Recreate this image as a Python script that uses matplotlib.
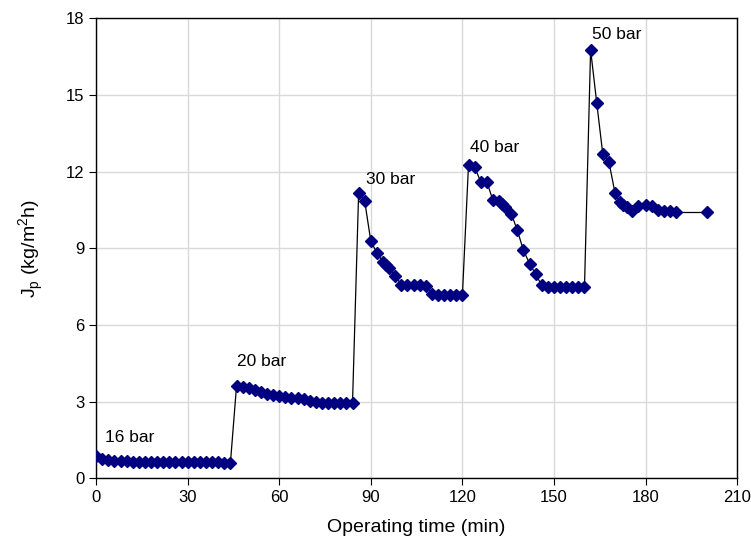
import matplotlib
matplotlib.use("Agg")
import matplotlib.pyplot as plt

plt.rcParams['font.family'] = ['Liberation Sans', 'DejaVu Sans']
plt.rcParams['mathtext.fontset'] = 'custom'
plt.rcParams['mathtext.rm'] = 'Liberation Sans'

# operating time (min) and permeate flux (kg/m2h), one block per pressure
t16 = [0, 2, 4, 6, 8, 10, 12, 14, 16, 18, 20, 22, 24, 26, 28, 30, 32, 34, 36, 38, 40, 42, 44]
j16 = [0.87, 0.75, 0.70, 0.68, 0.67, 0.66, 0.65, 0.65, 0.64, 0.64, 0.64, 0.63, 0.63, 0.63,
       0.63, 0.62, 0.62, 0.62, 0.62, 0.62, 0.62, 0.61, 0.60]

t20 = [46, 48, 50, 52, 54, 56, 58, 60, 62, 64, 66, 68, 70, 72, 74, 76, 78, 80, 82, 84]
j20 = [3.61, 3.57, 3.51, 3.44, 3.38, 3.31, 3.26, 3.21, 3.18, 3.14, 3.12, 3.08, 3.02, 2.99,
       2.96, 2.96, 2.96, 2.96, 2.96, 2.96]

t30 = [86, 88, 90, 92, 94, 95, 96, 98, 100, 102, 104, 106, 108, 110, 112, 114, 116, 118, 120]
j30 = [11.16, 10.84, 9.27, 8.82, 8.46, 8.33, 8.24, 7.90, 7.58, 7.56, 7.56, 7.56, 7.54, 7.22,
       7.18, 7.16, 7.16, 7.16, 7.16]

t40 = [122, 124, 126, 128, 130, 132, 133, 134, 136, 138, 140, 142, 144, 146, 148, 150, 152,
       154, 156, 158, 160]
j40 = [12.27, 12.18, 11.60, 11.60, 10.88, 10.84, 10.72, 10.60, 10.36, 9.70, 8.92, 8.40, 7.98,
       7.55, 7.50, 7.50, 7.49, 7.48, 7.48, 7.48, 7.48]

t50 = [162, 164, 166, 168, 170, 171.5, 172.5, 174, 175.5, 177.5, 180, 182, 184, 186, 188, 190, 200]
j50 = [16.77, 14.70, 12.68, 12.38, 11.16, 10.81, 10.70, 10.60, 10.46, 10.65, 10.68, 10.65,
       10.49, 10.45, 10.45, 10.40, 10.40]

labels = ["16 bar", "20 bar", "30 bar", "40 bar", "50 bar"]
label_pos = [(3, 1.6), (46, 4.55), (88.5, 11.7), (122.5, 12.95), (162.5, 17.35)]

t = t16 + t20 + t30 + t40 + t50
j = j16 + j20 + j30 + j40 + j50

fig = plt.figure(figsize=(7.51, 5.56), dpi=100)
ax = fig.add_axes([0.128, 0.14, 0.8535, 0.827])

ax.plot(t, j, "-", color="black", lw=0.9, marker="D", ms=6,
        mfc="#000080", mec="#000080", zorder=3)

for lab, (x, y) in zip(labels, label_pos):
    ax.text(x, y, lab, fontsize=12.5, ha="left", va="center")

ax.set_xlim(0, 210)
ax.set_ylim(0, 18)
ax.set_xticks(range(0, 211, 30))
ax.set_yticks(range(0, 19, 3))
ax.grid(color="#d9d9d9", lw=1)
ax.set_axisbelow(True)
ax.tick_params(direction="out", length=5, labelsize=12, color="black")
for s in ax.spines.values():
    s.set_color("black")
    s.set_linewidth(1)

ax.set_xlabel("Operating time (min)", fontsize=14, labelpad=10)
ax.set_ylabel(r"J$_\mathregular{p}$ (kg/m$^\mathregular{2}$h)", fontsize=14, labelpad=14)

fig.savefig("out.png", dpi=100)
